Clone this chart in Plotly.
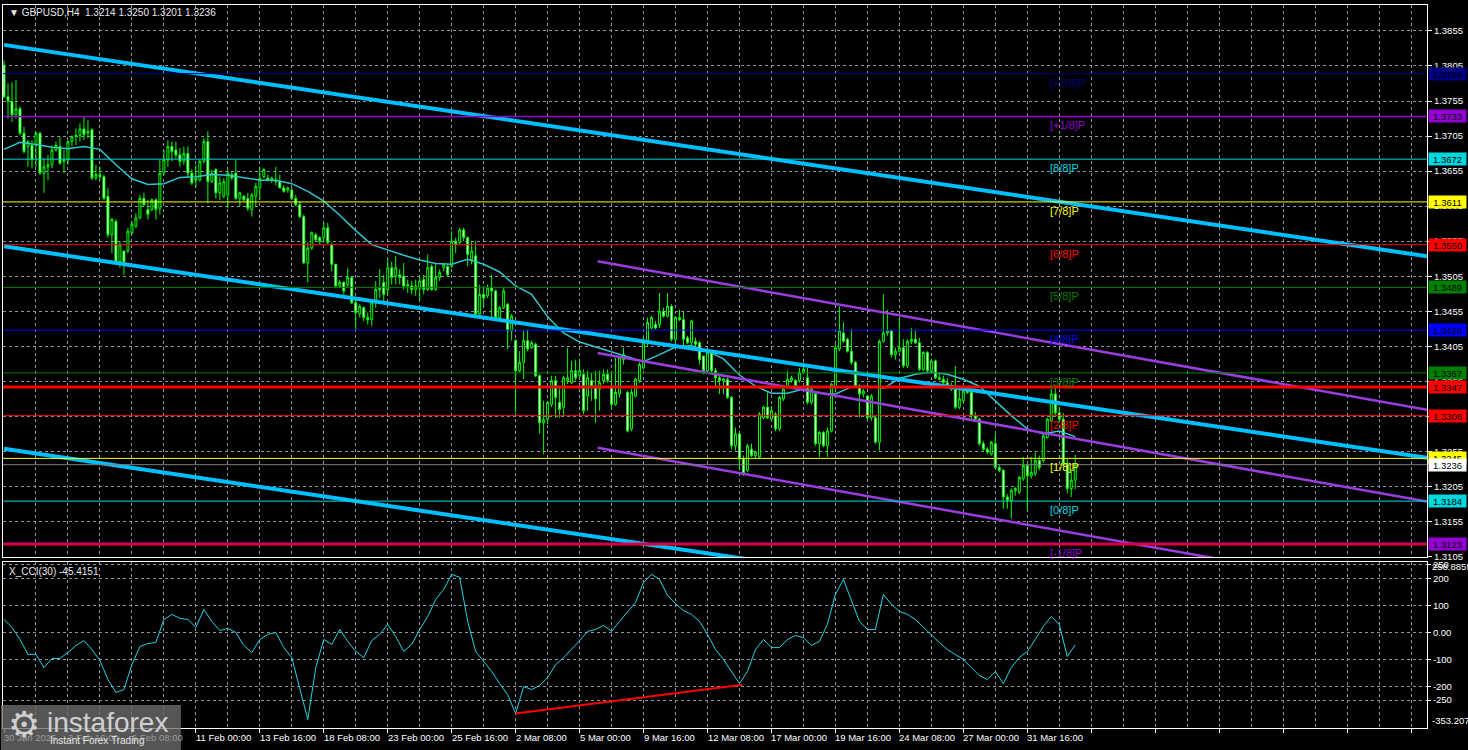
import plotly.graph_objects as go

# ---------------- data ----------------
OPEN = [1.3806,1.3761,1.3754,1.3735,1.3744,1.3709,1.3690,1.3692,1.3692,1.3709,
1.3652,1.3661,1.3664,1.3685,1.3690,1.3669,1.3671,1.3697,1.3704,1.3706,
1.3715,1.3709,1.3714,1.3645,1.3650,1.3647,1.3619,1.3564,1.3583,1.3526,
1.3541,1.3541,1.3567,1.3576,1.3588,1.3616,1.3600,1.3600,1.3614,1.3602,
1.3652,1.3671,1.3690,1.3685,1.3678,1.3669,1.3680,1.3652,1.3642,1.3642,
1.3669,1.3697,1.3640,1.3657,1.3624,1.3619,1.3621,1.3650,1.3652,1.3616,
1.3619,1.3616,1.3600,1.3619,1.3631,1.3647,1.3645,1.3642,1.3642,1.3640,
1.3631,1.3628,1.3628,1.3616,1.3607,1.3590,1.3524,1.3545,1.3564,1.3560,
1.3560,1.3574,1.3550,1.3522,1.3491,1.3496,1.3493,1.3503,1.3467,1.3451,
1.3460,1.3446,1.3443,1.3467,1.3486,1.3496,1.3486,1.3517,1.3505,1.3507,
1.3505,1.3491,1.3491,1.3486,1.3488,1.3500,1.3486,1.3519,1.3486,1.3503,
1.3517,1.3519,1.3519,1.3555,1.3553,1.3571,1.3560,1.3529,1.3534,1.3451,
1.3479,1.3477,1.3488,1.3484,1.3446,1.3460,1.3465,1.3427,1.3413,1.3370,
1.3382,1.3413,1.3403,1.3408,1.3363,1.3296,1.3301,1.3322,1.3356,1.3325,
1.3318,1.3356,1.3353,1.3370,1.3363,1.3365,1.3334,1.3356,1.3348,1.3344,
1.3356,1.3365,1.3348,1.3322,1.3337,1.3386,1.3339,1.3287,1.3334,1.3356,
1.3374,1.3410,1.3431,1.3436,1.3436,1.3455,1.3448,1.3462,1.3415,1.3446,
1.3443,1.3417,1.3410,1.3412,1.3410,1.3391,1.3370,1.3396,1.3370,1.3360,
1.3356,1.3358,1.3332,1.3263,1.3280,1.3244,1.3228,1.3258,1.3249,1.3247,
1.3303,1.3318,1.3301,1.3308,1.3287,1.3330,1.3348,1.3356,1.3356,1.3356,
1.3367,1.3360,1.3325,1.3337,1.3266,1.3282,1.3263,1.3284,1.3346,1.3401,
1.3424,1.3415,1.3398,1.3382,1.3348,1.3337,1.3334,1.3303,1.3303,1.3268,
1.3412,1.3424,1.3427,1.3393,1.3398,1.3403,1.3377,1.3412,1.3415,1.3410,
1.3372,1.3396,1.3370,1.3384,1.3360,1.3358,1.3353,1.3348,1.3344,1.3318,
1.3327,1.3341,1.3339,1.3306,1.3301,1.3266,1.3258,1.3251,1.3266,1.3232,
1.3228,1.3190,1.3185,1.3199,1.3197,1.3216,1.3235,1.3220,1.3223,1.3242,
1.3242,1.3275,1.3299,1.3337,1.3310,1.3301,1.3237,1.3202,1.3214]

HIGH = [1.3813,1.3780,1.3782,1.3785,1.3747,1.3718,1.3699,1.3699,1.3711,1.3711,
1.3673,1.3678,1.3692,1.3697,1.3704,1.3685,1.3699,1.3706,1.3716,1.3723,
1.3733,1.3728,1.3716,1.3664,1.3661,1.3650,1.3631,1.3588,1.3586,1.3555,
1.3541,1.3574,1.3583,1.3595,1.3621,1.3624,1.3614,1.3616,1.3616,1.3671,
1.3685,1.3699,1.3697,1.3697,1.3688,1.3690,1.3690,1.3657,1.3664,1.3671,
1.3702,1.3712,1.3657,1.3659,1.3647,1.3645,1.3657,1.3654,1.3671,1.3626,
1.3621,1.3624,1.3624,1.3638,1.3661,1.3659,1.3650,1.3647,1.3661,1.3650,
1.3635,1.3633,1.3631,1.3621,1.3612,1.3593,1.3553,1.3569,1.3567,1.3562,
1.3581,1.3581,1.3553,1.3522,1.3500,1.3498,1.3517,1.3505,1.3472,1.3465,
1.3462,1.3453,1.3470,1.3498,1.3515,1.3507,1.3531,1.3526,1.3534,1.3515,
1.3524,1.3500,1.3498,1.3500,1.3505,1.3507,1.3536,1.3522,1.3522,1.3515,
1.3524,1.3522,1.3569,1.3560,1.3574,1.3574,1.3562,1.3555,1.3555,1.3493,
1.3491,1.3493,1.3507,1.3486,1.3462,1.3488,1.3467,1.3451,1.3415,1.3398,
1.3427,1.3429,1.3413,1.3410,1.3365,1.3327,1.3327,1.3363,1.3363,1.3348,
1.3363,1.3403,1.3384,1.3386,1.3386,1.3372,1.3370,1.3367,1.3370,1.3370,
1.3372,1.3372,1.3370,1.3389,1.3391,1.3403,1.3341,1.3344,1.3360,1.3382,
1.3417,1.3446,1.3448,1.3441,1.3481,1.3460,1.3481,1.3465,1.3448,1.3457,
1.3455,1.3420,1.3443,1.3417,1.3412,1.3391,1.3398,1.3398,1.3374,1.3363,
1.3360,1.3360,1.3334,1.3289,1.3282,1.3249,1.3266,1.3266,1.3256,1.3311,
1.3320,1.3339,1.3320,1.3311,1.3334,1.3346,1.3370,1.3363,1.3358,1.3374,
1.3382,1.3374,1.3346,1.3339,1.3284,1.3284,1.3289,1.3353,1.3408,1.3462,
1.3439,1.3417,1.3429,1.3384,1.3351,1.3344,1.3334,1.3337,1.3306,1.3415,
1.3479,1.3457,1.3429,1.3403,1.3446,1.3415,1.3415,1.3431,1.3427,1.3417,
1.3398,1.3398,1.3386,1.3386,1.3365,1.3363,1.3360,1.3353,1.3377,1.3344,
1.3344,1.3344,1.3341,1.3311,1.3303,1.3270,1.3261,1.3270,1.3280,1.3237,
1.3230,1.3194,1.3202,1.3204,1.3220,1.3247,1.3237,1.3247,1.3254,1.3249,
1.3280,1.3303,1.3344,1.3346,1.3318,1.3310,1.3244,1.3230,1.3250]

LOW = [1.3759,1.3730,1.3725,1.3730,1.3706,1.3680,1.3661,1.3659,1.3661,1.3650,
1.3624,1.3642,1.3659,1.3683,1.3664,1.3652,1.3664,1.3690,1.3692,1.3697,
1.3699,1.3702,1.3642,1.3642,1.3642,1.3614,1.3560,1.3538,1.3524,1.3517,
1.3507,1.3538,1.3564,1.3574,1.3586,1.3605,1.3586,1.3598,1.3586,1.3593,
1.3650,1.3661,1.3669,1.3673,1.3661,1.3664,1.3645,1.3635,1.3631,1.3640,
1.3666,1.3609,1.3638,1.3616,1.3614,1.3616,1.3602,1.3642,1.3614,1.3605,
1.3612,1.3598,1.3590,1.3605,1.3614,1.3645,1.3640,1.3638,1.3635,1.3631,
1.3624,1.3624,1.3614,1.3605,1.3588,1.3522,1.3496,1.3543,1.3555,1.3550,
1.3553,1.3550,1.3512,1.3488,1.3488,1.3479,1.3488,1.3465,1.3429,1.3446,
1.3441,1.3436,1.3434,1.3460,1.3474,1.3465,1.3477,1.3493,1.3493,1.3493,
1.3486,1.3481,1.3479,1.3477,1.3470,1.3479,1.3484,1.3484,1.3484,1.3498,
1.3512,1.3505,1.3517,1.3538,1.3550,1.3555,1.3519,1.3522,1.3448,1.3448,
1.3460,1.3474,1.3446,1.3441,1.3441,1.3458,1.3401,1.3413,1.3311,1.3368,
1.3358,1.3398,1.3401,1.3361,1.3280,1.3251,1.3294,1.3318,1.3303,1.3303,
1.3306,1.3351,1.3351,1.3356,1.3360,1.3308,1.3313,1.3327,1.3296,1.3313,
1.3351,1.3353,1.3318,1.3320,1.3332,1.3379,1.3282,1.3284,1.3332,1.3353,
1.3372,1.3405,1.3429,1.3429,1.3431,1.3446,1.3446,1.3412,1.3410,1.3441,
1.3405,1.3408,1.3405,1.3405,1.3379,1.3365,1.3367,1.3365,1.3348,1.3337,
1.3337,1.3330,1.3258,1.3256,1.3228,1.3220,1.3225,1.3247,1.3244,1.3244,
1.3301,1.3301,1.3299,1.3284,1.3284,1.3327,1.3346,1.3353,1.3346,1.3353,
1.3365,1.3322,1.3322,1.3263,1.3247,1.3261,1.3247,1.3282,1.3341,1.3398,
1.3410,1.3396,1.3379,1.3346,1.3303,1.3332,1.3299,1.3299,1.3266,1.3256,
1.3410,1.3420,1.3389,1.3386,1.3396,1.3374,1.3374,1.3408,1.3408,1.3370,
1.3370,1.3367,1.3367,1.3358,1.3356,1.3351,1.3346,1.3341,1.3315,1.3315,
1.3325,1.3337,1.3299,1.3299,1.3263,1.3256,1.3251,1.3249,1.3230,1.3225,
1.3173,1.3173,1.3159,1.3192,1.3194,1.3213,1.3171,1.3216,1.3220,1.3228,
1.3239,1.3273,1.3296,1.3306,1.3296,1.3232,1.3195,1.3190,1.3201]

CLOSE = [1.3761,1.3755,1.3735,1.3744,1.3709,1.3683,1.3697,1.3671,1.3709,1.3652,
1.3661,1.3664,1.3685,1.3692,1.3666,1.3671,1.3697,1.3704,1.3706,1.3715,
1.3707,1.3712,1.3645,1.3650,1.3647,1.3616,1.3564,1.3586,1.3526,1.3550,
1.3525,1.3569,1.3579,1.3588,1.3616,1.3607,1.3593,1.3614,1.3600,1.3652,
1.3671,1.3690,1.3683,1.3678,1.3669,1.3680,1.3652,1.3638,1.3645,1.3669,
1.3697,1.3640,1.3652,1.3624,1.3638,1.3640,1.3652,1.3645,1.3616,1.3624,
1.3614,1.3602,1.3621,1.3633,1.3645,1.3657,1.3642,1.3645,1.3640,1.3631,
1.3626,1.3631,1.3616,1.3607,1.3590,1.3524,1.3545,1.3567,1.3557,1.3555,
1.3574,1.3553,1.3522,1.3491,1.3496,1.3484,1.3503,1.3467,1.3453,1.3462,
1.3446,1.3443,1.3467,1.3486,1.3488,1.3479,1.3517,1.3503,1.3517,1.3503,
1.3491,1.3493,1.3486,1.3491,1.3498,1.3486,1.3517,1.3486,1.3503,1.3510,
1.3522,1.3507,1.3555,1.3550,1.3571,1.3560,1.3536,1.3541,1.3451,1.3479,
1.3474,1.3488,1.3484,1.3446,1.3460,1.3484,1.3427,1.3448,1.3370,1.3382,
1.3413,1.3401,1.3410,1.3363,1.3296,1.3300,1.3325,1.3356,1.3332,1.3315,
1.3360,1.3360,1.3370,1.3360,1.3370,1.3313,1.3360,1.3348,1.3330,1.3353,
1.3365,1.3356,1.3322,1.3339,1.3389,1.3393,1.3284,1.3339,1.3358,1.3379,
1.3410,1.3439,1.3446,1.3431,1.3455,1.3448,1.3462,1.3415,1.3446,1.3443,
1.3415,1.3410,1.3441,1.3408,1.3386,1.3370,1.3396,1.3370,1.3360,1.3356,
1.3358,1.3332,1.3263,1.3280,1.3244,1.3223,1.3263,1.3249,1.3254,1.3308,
1.3318,1.3303,1.3313,1.3287,1.3332,1.3344,1.3358,1.3360,1.3348,1.3367,
1.3372,1.3325,1.3344,1.3266,1.3282,1.3263,1.3284,1.3351,1.3403,1.3427,
1.3412,1.3398,1.3382,1.3348,1.3337,1.3341,1.3303,1.3334,1.3268,1.3412,
1.3424,1.3427,1.3393,1.3398,1.3403,1.3377,1.3412,1.3415,1.3410,1.3372,
1.3396,1.3370,1.3384,1.3360,1.3358,1.3353,1.3348,1.3344,1.3318,1.3330,
1.3341,1.3339,1.3306,1.3301,1.3266,1.3258,1.3254,1.3268,1.3232,1.3228,
1.3190,1.3185,1.3199,1.3202,1.3218,1.3235,1.3220,1.3225,1.3242,1.3232,
1.3277,1.3301,1.3337,1.3310,1.3301,1.3237,1.3202,1.3214,1.3236]

# moving average (read every 4th bar)
MA_BARS = list(range(0, 269, 4))
MA_VALUES = [1.3686,1.3696,1.3693,1.3689,1.3687,1.3690,1.3686,1.3664,1.3644,1.3636,
1.3637,1.3646,1.3647,1.3650,1.3649,1.3646,1.3642,1.3642,1.3637,1.3626,
1.3612,1.3592,1.3570,1.3550,1.3542,1.3535,1.3528,1.3523,1.3522,1.3529,
1.3522,1.3511,1.3491,1.3479,1.3447,1.3424,1.3411,1.3404,1.3398,1.3390,
1.3383,1.3393,1.3404,1.3406,1.3398,1.3387,1.3364,1.3348,1.3338,1.3338,
1.3344,1.3338,1.3337,1.3347,1.3348,1.3345,1.3359,1.3365,1.3368,1.3365,
1.3358,1.3348,1.3327,1.3306,1.3287,1.3280,1.3284,1.3276]

# CCI(30) read every 2nd bar
CCI_BARS = list(range(0, 269, 2))
CCI_VALUES = [48,19,-26,-81,-81,-130,-96,-96,-74,-48,
-30,-63,-104,-174,-222,-211,-119,-52,-41,-37,
48,67,52,48,19,85,41,7,15,0,
-48,-74,-26,-7,0,-56,-93,-211,-322,-130,
-26,-44,11,-33,-70,-93,-30,-7,30,-15,
-70,-44,11,59,122,159,215,204,41,-70,
-107,-144,-189,-230,-300,-200,-211,-196,-167,-119,
-93,-63,-30,4,11,26,4,41,78,111,
185,215,196,137,107,81,67,41,-7,-63,
-100,-144,-189,-144,-63,-26,-56,-56,-26,-11,
-19,-48,-33,30,141,196,115,41,11,11,
141,104,78,67,48,19,-7,-37,-63,-81,
-100,-130,-159,-174,-144,-189,-130,-93,-70,-26,
22,59,30,-89,-45.4151]

DIV_BARS = [128, 184.75]
DIV_VALUES = [-300, -193]

TIME_LABELS = ["30 Jan 2025","3 Feb 16:00","6 Feb 08:00","11 Feb 00:00","13 Feb 16:00",
"18 Feb 08:00","23 Feb 00:00","25 Feb 16:00","2 Mar 08:00","5 Mar 00:00","9 Mar 16:00",
"12 Mar 08:00","17 Mar 00:00","19 Mar 16:00","24 Mar 08:00","27 Mar 00:00","31 Mar 16:00"]
TIME_LABEL_BARS = [0,16,32,48,64,80,96,112,128,144,160,176,192,208,224,240,256]

MURRAY_LEVELS = [1.3794,1.3733,1.3672,1.3611,1.3550,1.3489,1.3428,1.3367,1.3306,1.3245,1.3184,1.3123]
MURRAY_NAMES = ["[+2/8]P","[+1/8]P","[8/8]P","[7/8]P","[6/8]P","[5/8]P","[4/8]P","[3/8]P","[2/8]P","[1/8]P","[0/8]P","[-1/8]P"]
MURRAY_COLORS = ["#000080","#9400D3","#00D8E0","#FFFF00","#FF0000","#008000","#0000FF","#008000","#FF0000","#FFFF00","#00D8E0","#9400D3"]
MURRAY_WIDTHS = [1,1.5,1,1,1,1,1,1,1,1,1,1]
RES_LEVELS = [1.3347, 1.3123]
LAST_PRICE = 1.3236
HEADER = "GBPUSD,H4  1.3214 1.3250 1.3201 1.3236"
CCI_TITLE = "X_CCI(30) -45.4151"

PRICE_TICKS = [1.3105,1.3155,1.3205,1.3255,1.3305,1.3355,1.3405,1.3455,1.3505,1.3555,
               1.3605,1.3655,1.3705,1.3755,1.3805,1.3855]
CCI_TICKS = [-250,-200,-100,0,100,200,250]
CCI_TICK_TEXT = ["-250","-200","-100","0.00","100","200","250"]
CCI_MIN, CCI_MAX = -353.207, 258.8859

# drawn channels (anchor bars, anchor prices)
REG_BARS = [0, 356]
REG_UPPER = [1.38351, 1.35334]
REG_MID = [1.35476, 1.32459]
REG_LOWER = [1.32587, 1.29570]
PCH_BARS = [148.5, 356]
PCH_UPPER = [1.35263, 1.33142]
PCH_MID = [1.33953, 1.31833]
PCH_LOWER = [1.32602, 1.30481]

# ---------------- figure ----------------
FONT = "Liberation Sans, Arial, sans-serif"
GRID = "#8A96A3"
W, H = 1468, 750
ML, MR, MT, MB = 2, 41, 3, 22
PW, PH = W - ML - MR, H - MT - MB


def px_x(px):
    return (px - ML) / PW


def px_y(py):
    return (H - MB - py) / PH


bars = list(range(len(CLOSE)))
fig = go.Figure()

fig.add_trace(go.Candlestick(
    x=bars, open=OPEN, high=HIGH, low=LOW, close=CLOSE, xaxis="x", yaxis="y",
    increasing=dict(line=dict(color="#00FF00", width=1), fillcolor="#000000"),
    decreasing=dict(line=dict(color="#00FF00", width=1), fillcolor="#FFFFFF"),
    whiskerwidth=0, hoverinfo="skip", showlegend=False))

fig.add_trace(go.Scatter(x=MA_BARS, y=MA_VALUES, mode="lines", xaxis="x", yaxis="y",
                         line=dict(color="#30C4CC", width=1.5), hoverinfo="skip"))

for ys in (REG_UPPER, REG_MID, REG_LOWER):
    fig.add_trace(go.Scatter(x=REG_BARS, y=ys, mode="lines", xaxis="x", yaxis="y",
                             line=dict(color="#00BFFF", width=4), hoverinfo="skip"))
for ys in (PCH_UPPER, PCH_MID, PCH_LOWER):
    fig.add_trace(go.Scatter(x=PCH_BARS, y=ys, mode="lines", xaxis="x", yaxis="y",
                             line=dict(color="#9A3DE0", width=2.5), hoverinfo="skip"))

fig.add_trace(go.Scatter(x=CCI_BARS, y=CCI_VALUES, mode="lines", xaxis="x2", yaxis="y2",
                         line=dict(color="#22D3E6", width=1), hoverinfo="skip"))
fig.add_trace(go.Scatter(x=DIV_BARS, y=DIV_VALUES, mode="lines", xaxis="x2", yaxis="y2",
                         line=dict(color="#FF0000", width=2), hoverinfo="skip"))

shapes = []
annotations = []
# thick analyst lines first, Murray levels on top
for lvl in RES_LEVELS:
    shapes.append(dict(type="line", xref="paper", x0=0, x1=1, yref="y", y0=lvl, y1=lvl,
                       line=dict(color="#FF0000", width=3), layer="above"))
for lvl, name, col, lw in zip(MURRAY_LEVELS, MURRAY_NAMES, MURRAY_COLORS, MURRAY_WIDTHS):
    shapes.append(dict(type="line", xref="paper", x0=0, x1=1, yref="y", y0=lvl, y1=lvl,
                       line=dict(color=col, width=lw), layer="above"))
    annotations.append(dict(x=261.3, xref="x", y=lvl, yref="y", text=name, showarrow=False,
                            xanchor="left", yanchor="top", yshift=-1,
                            font=dict(family=FONT, size=11, color=col)))
shapes.append(dict(type="line", xref="paper", x0=0, x1=1, yref="y", y0=LAST_PRICE, y1=LAST_PRICE,
                   line=dict(color="#808080", width=1), layer="above"))

# right-hand price boxes
boxes = list(zip(MURRAY_LEVELS, MURRAY_COLORS)) + [(RES_LEVELS[0], "#FF0000"), (LAST_PRICE, "#FFFFFF")]
for lvl, col in boxes:
    annotations.append(dict(x=px_x(1428), xref="paper", y=lvl, yref="y", text=f"{lvl:.4f}",
                            showarrow=False, xanchor="left", yanchor="middle",
                            bgcolor=col, width=35, height=10, borderpad=1,
                            font=dict(family=FONT, size=9.5, color="#000000")))

# time labels
for b, t in zip(TIME_LABEL_BARS, TIME_LABELS):
    col = "#9A9A9A" if b < 40 else "#FFFFFF"
    annotations.append(dict(x=b, xref="x2", y=px_y(738), yref="paper", text=t, showarrow=False,
                            xanchor="left", yanchor="middle", xshift=-2,
                            font=dict(family=FONT, size=9.5, color=col)))

# CCI scale extremes
annotations.append(dict(x=px_x(1430), xref="paper", y=CCI_MAX, yref="y2", text="258.8859",
                        showarrow=False, xanchor="left", yanchor="top", yshift=3,
                        font=dict(family=FONT, size=9.5, color="#FFFFFF")))
annotations.append(dict(x=px_x(1430), xref="paper", y=CCI_MIN, yref="y2", text="-353.207",
                        showarrow=False, xanchor="left", yanchor="bottom",
                        font=dict(family=FONT, size=9.5, color="#FFFFFF")))

# header and indicator title
annotations.append(dict(x=px_x(6), xref="paper", y=px_y(11), yref="paper",
                        text="\u25BC " + HEADER, showarrow=False, xanchor="left", yanchor="middle",
                        font=dict(family=FONT, size=10, color="#E8E8E8")))
annotations.append(dict(x=px_x(6), xref="paper", y=px_y(571), yref="paper",
                        text=CCI_TITLE, showarrow=False, xanchor="left", yanchor="middle",
                        font=dict(family=FONT, size=10, color="#E8E8E8")))

# watermark logo
shapes.append(dict(type="rect", xref="paper", yref="paper", x0=px_x(0), x1=px_x(180),
                   y0=px_y(750), y1=px_y(705), fillcolor="rgba(110,110,110,0.78)",
                   line=dict(width=0), layer="above"))
annotations.append(dict(x=px_x(23), xref="paper", y=px_y(724), yref="paper", text="\u2699",
                        showarrow=False, xanchor="center", yanchor="middle",
                        font=dict(family="DejaVu Sans", size=36, color="#CFCFCF")))
annotations.append(dict(x=px_x(44), xref="paper", y=px_y(722), yref="paper", text="instaforex",
                        showarrow=False, xanchor="left", yanchor="middle",
                        font=dict(family=FONT, size=28, color="#D0D0D0")))
annotations.append(dict(x=px_x(47), xref="paper", y=px_y(741), yref="paper",
                        text="Instant Forex Trading", showarrow=False, xanchor="left", yanchor="middle",
                        font=dict(family=FONT, size=10, color="#E6E6E6")))

axis_common = dict(showline=True, mirror=True, linecolor="#FFFFFF", linewidth=1,
                   zeroline=False, gridcolor=GRID, griddash="3px,3px", gridwidth=1)
xr = [-0.25, 356]
xgrid = dict(tickmode="linear", tick0=0, dtick=16, showgrid=True,
             minor=dict(tickmode="linear", tick0=0, dtick=8, showgrid=True, gridcolor=GRID,
                        griddash="3px,3px", gridwidth=1, ticks=""))

fig.update_layout(
    width=W, height=H, margin=dict(l=ML, r=MR, t=MT, b=MB, pad=0),
    paper_bgcolor="#000000", plot_bgcolor="#000000", showlegend=False, hovermode=False,
    xaxis=dict(domain=[0, 1], anchor="y", range=xr, showticklabels=False, ticks="",
               rangeslider=dict(visible=False), **xgrid, **axis_common),
    yaxis=dict(domain=[px_y(557), 1], anchor="x", side="right", range=[1.31036, 1.38920],
               tickmode="array", tickvals=PRICE_TICKS, ticktext=[f"{v:.4f}" for v in PRICE_TICKS],
               ticks="outside", ticklen=4, tickcolor="#FFFFFF", showgrid=True,
               tickfont=dict(family=FONT, size=9.5, color="#FFFFFF"), **axis_common),
    xaxis2=dict(domain=[0, 1], anchor="y2", range=xr, matches="x", showticklabels=False,
                ticks="outside", ticklen=4, tickcolor="#FFFFFF",
                rangeslider=dict(visible=False), **xgrid, **axis_common),
    yaxis2=dict(domain=[0, px_y(562)], anchor="x2", side="right", range=[CCI_MIN, CCI_MAX],
                tickmode="array", tickvals=CCI_TICKS, ticktext=CCI_TICK_TEXT,
                ticks="outside", ticklen=3, tickcolor="#FFFFFF", showgrid=True,
                tickfont=dict(family=FONT, size=9.5, color="#FFFFFF"), **axis_common),
    shapes=shapes, annotations=annotations,
)

fig.write_html("out.html", config={"displayModeBar": False},
               post_script="document.body.style.margin='0px';document.body.style.overflow='hidden';document.body.style.background='#000';")
